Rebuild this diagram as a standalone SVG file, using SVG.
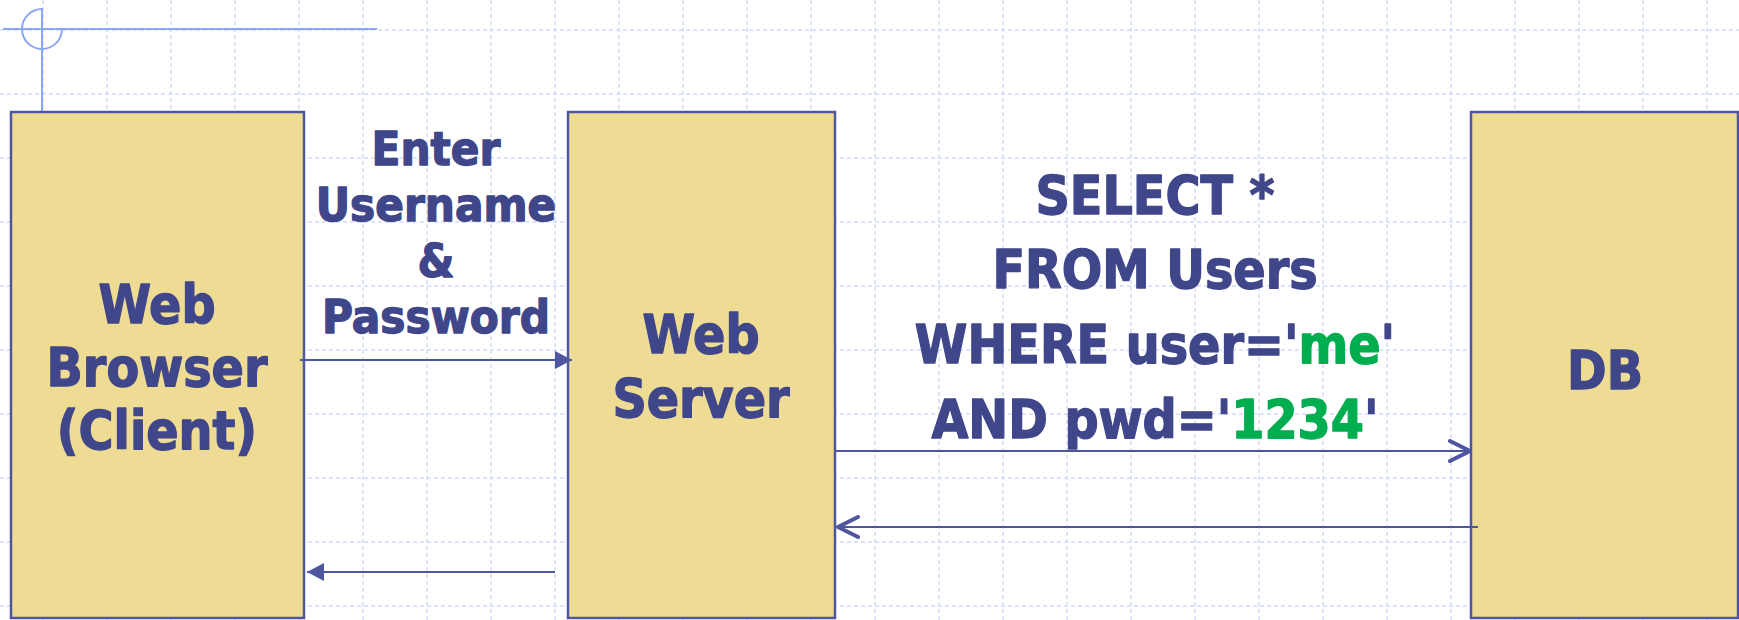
<svg xmlns="http://www.w3.org/2000/svg" width="1739" height="620" viewBox="0 0 1739 620">
<defs>
<style>
.grid{stroke:#d2dcf9;stroke-width:1.5;stroke-dasharray:4 3;fill:none}
.guide{stroke:#8aa6f5;stroke-width:2;fill:none}
.box{fill:#eedc94;stroke:#4f56a0;stroke-width:2.5}
.t{font-family:"DejaVu Sans Condensed","DejaVu Sans",sans-serif;font-stretch:condensed;font-weight:bold;fill:#40468a;stroke:#40468a;stroke-width:1.3;stroke-linejoin:round;text-anchor:middle}
.n{font-size:53px}
.lbl{font-size:47px}
.sql{font-size:53px}
.g{fill:#00ad4f;stroke:#00ad4f}
.c{stroke:#4f56a0;stroke-width:2;fill:none}
</style>
<marker id="fa" viewBox="0 0 17 18" markerWidth="17" markerHeight="18" refX="17" refY="9" orient="auto" markerUnits="userSpaceOnUse">
<path d="M0,0 L17,9 L0,18 Z" fill="#4f56a0"/>
</marker>
<marker id="oa" viewBox="0 0 24 24" markerWidth="24" markerHeight="24" refX="22" refY="12" orient="auto" markerUnits="userSpaceOnUse">
<path d="M2,2 L22,12 L2,22" fill="none" stroke="#4f56a0" stroke-width="4" stroke-linecap="round" stroke-linejoin="round"/>
</marker>
</defs>
<rect width="1739" height="620" fill="#ffffff"/>
<g id="grid">
<path class="grid" d="M43,0V620M107,0V620M171,0V620M235,0V620M299,0V620M363,0V620M427,0V620M491,0V620M555,0V620M619,0V620M683,0V620M747,0V620M811,0V620M875,0V620M939,0V620M1003,0V620M1067,0V620M1131,0V620M1195,0V620M1259,0V620M1323,0V620M1387,0V620M1451,0V620M1515,0V620M1579,0V620M1643,0V620M1707,0V620"/>
<path class="grid" d="M0,30H1739M0,94H1739M0,158H1739M0,222H1739M0,286H1739M0,350H1739M0,414H1739M0,478H1739M0,542H1739M0,606H1739"/>
</g>
<g id="guides">
<path class="guide" d="M3,29H377M42,8V112"/>
<path class="guide" d="M42,9 A20,20 0 1 0 62,29"/>
</g>
<g id="browser">
<rect class="box" x="11" y="112" width="293" height="506"/>
<text class="t n" x="157" y="323">Web</text>
<text class="t n" x="157" y="386">Browser</text>
<text class="t n" x="157" y="449">(Client)</text>
</g>
<g id="server">
<rect class="box" x="568" y="112" width="267" height="506"/>
<text class="t n" x="701" y="353">Web</text>
<text class="t n" x="701" y="417">Server</text>
</g>
<g id="db">
<rect class="box" x="1471" y="112" width="267" height="506"/>
<text class="t n" x="1605" y="389">DB</text>
</g>
<g id="connectors">
<line class="c" x1="300" y1="360" x2="572" y2="360" marker-end="url(#fa)"/>
<line class="c" x1="555" y1="572" x2="307" y2="572" marker-end="url(#fa)"/>
<line class="c" x1="835" y1="451" x2="1470" y2="451" marker-end="url(#oa)"/>
<line class="c" x1="1478" y1="527" x2="838" y2="527" marker-end="url(#oa)"/>
</g>
<g id="labels">
<text class="t lbl" x="436" y="165">Enter</text>
<text class="t lbl" x="436" y="221">Username</text>
<text class="t lbl" x="436" y="277">&amp;</text>
<text class="t lbl" x="436" y="333">Password</text>
<text class="t sql" x="1155" y="214">SELECT *</text>
<text class="t sql" x="1155" y="288">FROM Users</text>
<text class="t sql" x="1155" y="363">WHERE user='<tspan class="g">me</tspan>'</text>
<text class="t sql" x="1155" y="438">AND pwd='<tspan class="g">1234</tspan>'</text>
</g>
</svg>
